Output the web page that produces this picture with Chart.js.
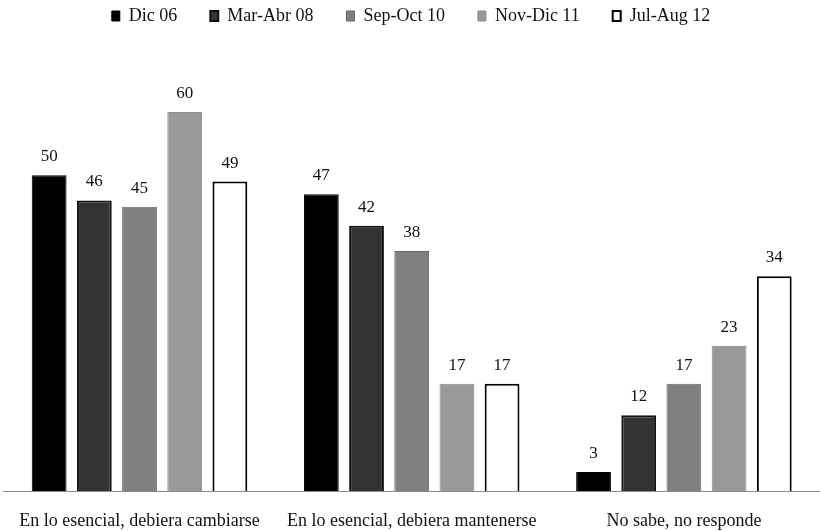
<!DOCTYPE html>
<html>
<head>
<meta charset="utf-8">
<script src="https://cdn.jsdelivr.net/npm/chart.js@4.4.1/dist/chart.umd.min.js"></script>
<style>
  html, body { margin: 0; padding: 0; background: #fff; }
  #wrap { width: 820px; height: 531px; }
</style>
</head>
<body>
<div id="wrap"><canvas id="opinionChart"></canvas></div>
<script>
// Categorías y series por periodo de medición
const categories = ['En lo esencial, debiera cambiarse', 'En lo esencial, debiera mantenerse', 'No sabe, no responde'];
const dic06 = [50, 47, 3];
const marAbr08 = [46, 42, 12];
const sepOct10 = [45, 38, 17];
const novDic11 = [60, 17, 23];
const julAug12 = [49, 17, 34];

const serif = "'Liberation Serif', 'DejaVu Serif', serif";

// Escribe el valor sobre cada barra
const valueLabels = {
    id: 'valueLabels',
    afterDatasetsDraw(chart) {
        const ctx = chart.ctx;
        ctx.save();
        ctx.font = '17px ' + serif;
        ctx.fillStyle = '#111';
        ctx.textAlign = 'center';
        ctx.textBaseline = 'alphabetic';
        chart.data.datasets.forEach(function (ds, i) {
            chart.getDatasetMeta(i).data.forEach(function (bar, j) {
                ctx.fillText(ds.data[j], bar.x, bar.y - 14);
            });
        });
        ctx.restore();
    }
};

const ctx = document.getElementById('opinionChart').getContext('2d');
const opinionChart = new Chart(ctx, {
    type: 'bar',
    data: {
        labels: categories,
        datasets: [{
            label: 'Dic 06',
            data: dic06,
            backgroundColor: '#000000',
            borderColor: '#000000',
            borderWidth: 1
        }, {
            label: 'Mar-Abr 08',
            data: marAbr08,
            backgroundColor: '#333333',
            borderColor: '#111111',
            borderWidth: 2
        }, {
            label: 'Sep-Oct 10',
            data: sepOct10,
            backgroundColor: '#808080',
            borderColor: '#666666',
            borderWidth: 1
        }, {
            label: 'Nov-Dic 11',
            data: novDic11,
            backgroundColor: '#999999',
            borderColor: '#8a8a8a',
            borderWidth: 1
        }, {
            label: 'Jul-Aug 12',
            data: julAug12,
            backgroundColor: '#ffffff',
            borderColor: '#000000',
            borderWidth: 2
        }]
    },
    options: {
        responsive: true,
        maintainAspectRatio: false,
        animation: false,
        categoryPercentage: 0.83,
        barPercentage: 0.77,
        layout: {
            padding: { left: 2, right: 0, top: -26, bottom: 0 }
        },
        plugins: {
            legend: {
                position: 'top',
                labels: {
                    color: '#111',
                    font: { family: serif, size: 18 },
                    boxWidth: 8,
                    boxHeight: 10,
                    padding: 33
                }
            },
            tooltip: { enabled: false }
        },
        scales: {
            x: {
                grid: { display: false, drawTicks: false },
                border: { display: true, color: '#8c8c8c', width: 1 },
                ticks: {
                    color: '#111',
                    font: { family: serif, size: 18 },
                    padding: 19,
                    maxRotation: 0
                },
                afterFit(scale) {
                    scale.height = 40;
                }
            },
            y: {
                display: false,
                beginAtZero: true,
                max: 72.2
            }
        }
    },
    plugins: [valueLabels]
});
</script>
</body>
</html>
